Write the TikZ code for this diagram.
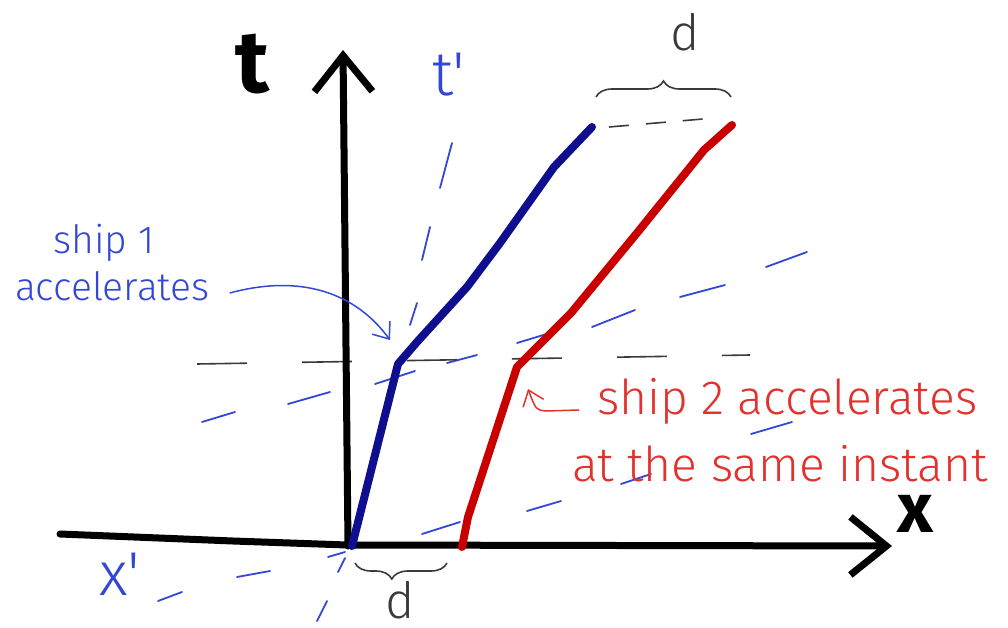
\documentclass[tikz,border=0pt]{standalone}
\usepackage{fontspec}
\setmainfont{Fira Sans}
\newfontfamily\HandFont{Fira Sans Light}
\usetikzlibrary{arrows.meta,decorations.pathreplacing,positioning}
\definecolor{shipBlue}{HTML}{0E0E8E}
\definecolor{shipRed}{HTML}{C90000}
\definecolor{primeBlue}{HTML}{3447D4}
\definecolor{noteRed}{HTML}{E2322E}
\definecolor{ink}{HTML}{000000}
\definecolor{pencil}{HTML}{3A3A3A}
\newcommand{\AxisFont}{\bfseries\fontsize{88}{88}\selectfont}
\newcommand{\AxisFontX}{\bfseries\fontsize{70}{70}\selectfont}
\newcommand{\PrimeFont}{\HandFont\fontsize{62}{62}\selectfont}
\newcommand{\NoteFont}{\HandFont\fontsize{39}{47}\selectfont}
\newcommand{\RedFont}{\HandFont\fontsize{48}{60}\selectfont}
\newcommand{\DFont}{\HandFont\fontsize{50}{50}\selectfont}
\tikzset{
  axis line/.style={
    -{Straight Barb[length=36pt,width=58pt]},
    line width=7pt, ink, line cap=round, line join=round
  },
  world line/.style={line width=8pt, line cap=round, line join=round},
  frame dash/.style={primeBlue, line width=1.8pt, line cap=round},
  pencil dash/.style={pencil, line width=1.6pt},
  gap brace/.style={
    decorate, decoration={brace, amplitude=16pt},
    pencil, line width=1.6pt
  },
  note arrow/.style={-{Straight Barb[length=14pt,width=22pt]}, line width=1.5pt},
  hand label/.style={inner sep=0pt, outer sep=0pt},
}

\begin{document}
\begin{tikzpicture}[x=1pt,y=-1pt]
  \path[use as bounding box] (0,0) rectangle (1008,628);

  % t' axis of the ships (dashed blue)
  \foreach \xa/\ya/\xb/\yb in {317/621/327/601, 338/572/345/558, 410/325/417/303,
                               422/260/430/227, 440/188/452/143}
    \draw[frame dash] (\xa,\ya) -- (\xb,\yb);
  % x' axis
  \foreach \xa/\ya/\xb/\yb in {158/601/182/592, 237/577/270/571, 328/557/345/552,
                               422/534/460/522, 527/511/561/501, 621/484/651/474,
                               751/434/792/422}
    \draw[frame dash] (\xa,\ya) -- (\xb,\yb);
  % ships' line of simultaneity through the kink
  \foreach \xa/\ya/\xb/\yb in {202/422/235/412, 288/404/330/392, 375/384/415/371,
                               447/363/477/355, 517/343/550/333, 592/327/635/310,
                               680/297/725/285, 766/267/807/252}
    \draw[frame dash] (\xa,\ya) -- (\xb,\yb);

  % rest-frame simultaneity
  \draw[pencil dash, dash pattern=on 50pt off 55pt] (197,364) -- (750,355);
  \draw[pencil dash, dash pattern=on 20pt off 17pt] (609,127) -- (703,119);

  % Axes
  \draw[axis line] (60,534) -- (233,541) -- (347,545) -- (892,546);
  \draw[axis line] (348,546) -- (343,50);
  \node[hand label, font=\AxisFont] (tlab) at (252,64) {t};
  \node[hand label, font=\AxisFontX] (xlab) at (915,514) {x};
  \node[hand label, font=\PrimeFont, primeBlue] (tplab) at (449,75) {t'};
  \node[hand label, font=\PrimeFont, primeBlue] (xplab) at (120,574) {x'};

  % World lines
  \coordinate (kink1) at (398,364);
  \coordinate (kink2) at (517,367);
  \draw[world line, shipBlue] (352,546) -- (kink1) -- (417,342) -- (467,287)
    -- (500,243) -- (554,167) -- (592,127);
  \draw[world line, shipRed] (462,547) -- (468,517) -- (kink2) -- (571,313)
    -- (637,233) -- (704,150) -- (732,125);

  % Separations
  \draw[gap brace] (596,97) -- (731,97);
  \node[hand label, font=\DFont, pencil] (dtop) at (685,32) {d};
  \draw[gap brace, decoration={aspect=0.6}] (447,563) -- (355,563);
  \node[hand label, font=\DFont, pencil] (dbot) at (400,600) {d};

  % Notes
  \node[hand label, font=\NoteFont, primeBlue, anchor=base] (ship1a) at (104,253) {ship 1};
  \node[hand label, font=\NoteFont, primeBlue, anchor=base west] (ship1b) at (15,300) {accelerates};
  \coordinate (tip1) at (390,340);
  \draw[note arrow, primeBlue] ([xshift=20pt,yshift=7pt]ship1b.base east)
    .. controls (300,274) and (355,292) .. (tip1);

  \node[hand label, font=\RedFont, noteRed, anchor=base west] (ship2a) at (597,414) {ship 2 accelerates};
  \node[hand label, font=\RedFont, noteRed, anchor=base west] (ship2b) at (572,481) {at the same instant};
  \coordinate (tip2) at (528,389);
  \draw[note arrow, noteRed] ([xshift=-18pt,yshift=4pt]ship2a.base west) -- (546,411)
    .. controls (536,410) .. (tip2);
\end{tikzpicture}
\end{document}
